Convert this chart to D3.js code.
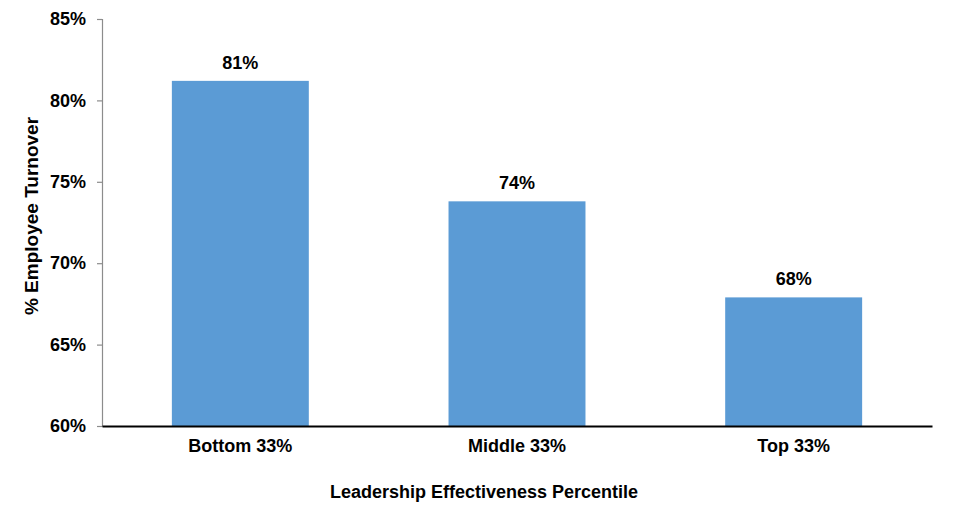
<!DOCTYPE html>
<html>
<head>
<meta charset="utf-8">
<script src="https://cdn.jsdelivr.net/npm/d3@7"></script>
<style>
  html, body { margin: 0; padding: 0; background: #fff; }
  svg { display: block; font-family: "Liberation Sans", Arial, sans-serif; }
</style>
</head>
<body>
<svg id="chart" width="960" height="523"></svg>
<script>
const categories = ["Bottom 33%", "Middle 33%", "Top 33%"];
const turnover = [81.2, 73.8, 67.9];
const valueLabels = ["81%", "74%", "68%"];
const yTicks = [60, 65, 70, 75, 80, 85];

const svg = d3.select("#chart");
const margin = { left: 102, right: 28, top: 19, bottom: 97 };
const W = 960, H = 523;

const x = d3.scaleBand()
  .domain(categories)
  .range([margin.left, W - margin.right])
  .paddingInner(0.505)
  .paddingOuter(0.2525);

const y = d3.scaleLinear()
  .domain([60, 85])
  .range([H - margin.bottom, margin.top]);

// Bars
svg.append("g").selectAll("rect")
  .data(categories)
  .join("rect")
  .attr("x", d => x(d))
  .attr("width", x.bandwidth())
  .attr("y", (d, i) => y(turnover[i]))
  .attr("height", (d, i) => y(60) - y(turnover[i]))
  .attr("fill", "#5b9bd5");

// Value labels
svg.append("g").selectAll("text")
  .data(categories)
  .join("text")
  .attr("x", d => x(d) + x.bandwidth() / 2)
  .attr("y", (d, i) => y(turnover[i]) - 12)
  .attr("text-anchor", "middle")
  .attr("font-size", 18)
  .attr("font-weight", "bold")
  .attr("fill", "#000")
  .text((d, i) => valueLabels[i]);

// Y axis
const yAxis = svg.append("g")
  .attr("transform", `translate(${margin.left},0)`)
  .call(d3.axisLeft(y).tickValues(yTicks).tickSize(5).tickPadding(11).tickFormat(d => d + "%"));
yAxis.select(".domain").attr("stroke", "#8c8c8c").attr("stroke-width", 1.2);
yAxis.selectAll(".tick line").attr("stroke", "#8c8c8c").attr("stroke-width", 1.2);
yAxis.selectAll(".tick text")
  .attr("font-size", 18)
  .attr("font-weight", "bold")
  .attr("fill", "#000")
  .attr("font-family", "Liberation Sans, Arial, sans-serif");

// X axis
const xAxis = svg.append("g")
  .attr("transform", `translate(0,${y(60)})`)
  .call(d3.axisBottom(x).tickSize(0).tickPadding(13));
xAxis.select(".domain").attr("stroke", "#000").attr("stroke-width", 2);
xAxis.selectAll(".tick text")
  .attr("font-size", 18)
  .attr("font-weight", "bold")
  .attr("fill", "#000")
  .attr("font-family", "Liberation Sans, Arial, sans-serif");

// Axis titles
svg.append("text")
  .attr("x", 484)
  .attr("y", 498)
  .attr("text-anchor", "middle")
  .attr("font-size", 18)
  .attr("font-weight", "bold")
  .text("Leadership Effectiveness Percentile");

svg.append("text")
  .attr("transform", "translate(38,216) rotate(-90)")
  .attr("text-anchor", "middle")
  .attr("font-size", 19)
  .attr("font-weight", "bold")
  .text("% Employee Turnover");
</script>
</body>
</html>
